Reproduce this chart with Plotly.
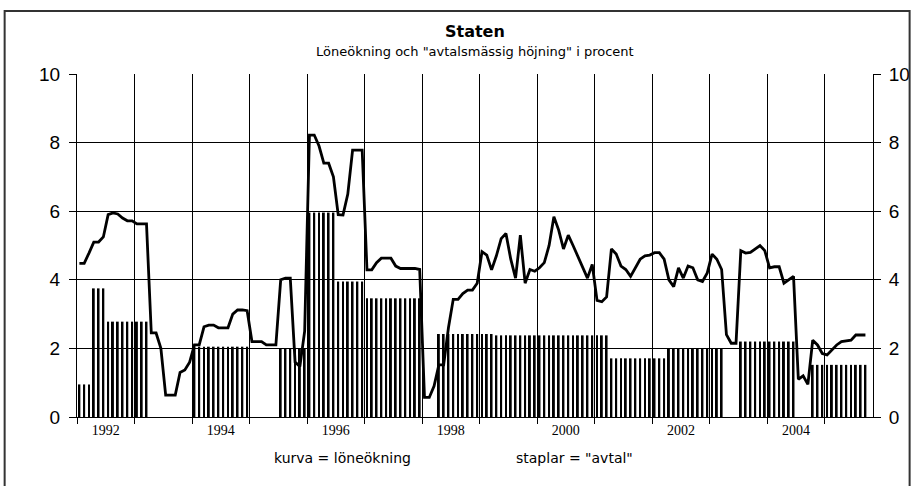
import plotly.graph_objs as go

# månadsdata jan 1992 - sep 2005
years = list(range(1992, 2006))

loneokning = [
    # 1992
    4.48, 4.48, 4.78, 5.1, 5.1, 5.25, 5.9, 5.95, 5.92, 5.8, 5.72, 5.72,
    # 1993
    5.63, 5.63, 5.63, 2.45, 2.45, 2.0, 0.64, 0.64, 0.64, 1.3, 1.37, 1.6,
    # 1994
    2.1, 2.1, 2.63, 2.68, 2.68, 2.6, 2.6, 2.6, 3.0, 3.12, 3.12, 3.1,
    # 1995
    2.2, 2.2, 2.2, 2.1, 2.1, 2.1, 4.0, 4.05, 4.05, 1.6, 1.47, 2.5,
    # 1996
    8.22, 8.22, 7.9, 7.4, 7.4, 7.0, 5.9, 5.89, 6.5, 7.78, 7.78, 7.78,
    # 1997
    4.29, 4.29, 4.5, 4.63, 4.63, 4.63, 4.4, 4.33, 4.33, 4.33, 4.33, 4.3,
    # 1998
    0.57, 0.57, 0.9, 1.52, 1.52, 2.6, 3.43, 3.43, 3.6, 3.7, 3.7, 3.9,
    # 1999
    4.82, 4.72, 4.29, 4.7, 5.2, 5.35, 4.6, 4.05, 5.3, 3.9, 4.3, 4.25,
    # 2000
    4.35, 4.5, 5.0, 5.84, 5.45, 4.9, 5.3, 5.0, 4.7, 4.4, 4.05, 4.45,
    # 2001
    3.4, 3.36, 3.5, 4.9, 4.75, 4.4, 4.3, 4.1, 4.35, 4.6, 4.7, 4.72,
    # 2002
    4.79, 4.79, 4.6, 4.0, 3.8, 4.35, 4.05, 4.4, 4.35, 4.0, 3.95, 4.2,
    # 2003
    4.75, 4.6, 4.3, 2.4, 2.15, 2.15, 4.85, 4.78, 4.8, 4.9, 5.0, 4.85,
    # 2004
    4.35, 4.38, 4.38, 3.9, 4.0, 4.1, 1.1, 1.2, 0.95, 2.24, 2.1, 1.85,
    # 2005
    1.81, 1.95, 2.1, 2.2, 2.22, 2.24, 2.39, 2.39, 2.39,
]

avtal = (
    [0.95] * 3 + [3.75] * 3 + [2.78] * 9 + [None] * 9      # 1992-1993
    + [2.05] * 12                                           # 1994
    + [None] * 6 + [2.0] * 6                                # 1995
    + [5.96] * 6 + [3.95] * 6                               # 1996
    + [3.46] * 12                                           # 1997
    + [None] * 3 + [2.42] * 12 + [2.38] * 24                # 1998-2001
    + [1.71] * 12 + [2.0] * 12                              # 2001-2003
    + [None] * 3 + [2.2] * 12                               # 2003-2004
    + [None] * 3 + [1.52] * 12                              # 2004-2005
)

x_month = [1992 + (i + 0.5) / 12 for i in range(len(loneokning))]
year_labels = [str(y) for y in years if y % 2 == 0]
year_label_pos = [y + 0.5 for y in years if y % 2 == 0]

fig = go.Figure()

fig.add_trace(go.Bar(
    x=x_month,
    y=avtal,
    marker=dict(color='black', line=dict(width=0)),
    name='avtal',
    yaxis='y',
))

fig.add_trace(go.Scatter(
    x=x_month,
    y=loneokning,
    mode='lines',
    line=dict(color='black', width=2.8),
    name='löneökning',
    yaxis='y2',
))

# titel och förklaring
texter = [
    (0.5, 1.124, '<b>Staten</b>', 16),
    (0.5, 1.067, 'Löneökning och "avtalsmässig höjning" i procent', 13),
    (0.334, -0.12, 'kurva = löneökning', 14),
    (0.625, -0.12, 'staplar = "avtal"', 14),
]
for x, y, txt, size in texter:
    fig.add_annotation(x=x, y=y, xref='paper', yref='paper', text=txt,
                       xanchor='center', yanchor='middle', showarrow=False,
                       font=dict(size=size, family='DejaVu Sans', color='black'))

# ram runt diagrammet
fig.add_shape(type='rect', xref='paper', yref='paper',
              x0=-0.0909, x1=1.046, y0=-0.25, y1=1.184,
              line=dict(color='#333333', width=2))

fig.update_layout(
    width=922,
    height=486,
    margin=dict(l=77, r=42, t=74, b=69),
    plot_bgcolor='white',
    paper_bgcolor='white',
    showlegend=False,
    bargap=0.6,
    xaxis=dict(
        range=[1992, 2005.84],
        tickvals=year_label_pos,
        ticktext=year_labels,
        ticks='',
        showgrid=False,
        zeroline=False,
        showline=True,
        linecolor='black',
        linewidth=1,
        tickfont=dict(family='Liberation Serif', size=14, color='black'),
        minor=dict(tickvals=years, ticks='outside', ticklen=6, tickcolor='black',
                   showgrid=True, gridcolor='black', gridwidth=1),
    ),
    yaxis=dict(
        range=[0, 10],
        dtick=2,
        ticks='outside',
        ticklen=7,
        tickcolor='black',
        ticklabelstandoff=5,
        showgrid=True,
        gridcolor='black',
        gridwidth=1,
        zeroline=False,
        showline=True,
        linecolor='black',
        tickfont=dict(family='Liberation Sans', size=19, color='black'),
    ),
    yaxis2=dict(
        range=[0, 10],
        dtick=2,
        overlaying='y',
        side='right',
        ticks='outside',
        ticklen=7,
        tickcolor='black',
        ticklabelstandoff=4,
        showgrid=False,
        zeroline=False,
        showline=True,
        linecolor='black',
        tickfont=dict(family='Liberation Sans', size=19, color='black'),
    ),
)

fig.write_html("out.html", config={'displayModeBar': False},
               post_script="document.body.style.margin='0';document.body.style.overflow='hidden';")
